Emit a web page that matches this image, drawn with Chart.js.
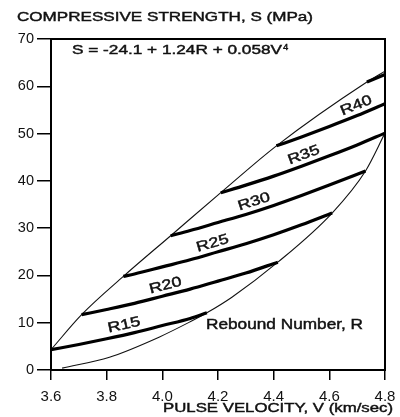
<!DOCTYPE html>
<html>
<head>
<meta charset="utf-8">
<script src="https://cdn.jsdelivr.net/npm/chart.js@4.4.1/dist/chart.umd.min.js"></script>
<style>
  html, body { margin: 0; padding: 0; background: #fff; }
  #wrap { width: 400px; height: 417px; }
</style>
</head>
<body>
<div id="wrap"><canvas id="c"></canvas></div>
<script>
// --- Data ---
const xTicks = [3.6, 3.8, 4.0, 4.2, 4.4, 4.6, 4.8];
const yTicks = [0, 10, 20, 30, 40, 50, 60, 70];

const r15V = [3.60, 3.70, 3.80, 3.90, 4.00, 4.10, 4.16];
const r15S = [4.3, 5.4, 6.6, 7.9, 9.4, 10.9, 12.1];
const r20V = [3.71, 3.80, 3.90, 4.00, 4.10, 4.20, 4.30, 4.415];
const r20S = [11.7, 12.8, 14.1, 15.6, 17.1, 18.8, 20.5, 22.8];
const r25V = [3.86, 3.90, 4.00, 4.10, 4.20, 4.30, 4.40, 4.50, 4.61];
const r25S = [19.8, 20.3, 21.8, 23.3, 25.0, 26.7, 28.6, 30.7, 33.2];
const r30V = [4.03, 4.10, 4.20, 4.30, 4.40, 4.50, 4.60, 4.73];
const r30S = [28.4, 29.5, 31.2, 32.9, 34.8, 36.9, 39.1, 42.1];
const r35V = [4.21, 4.30, 4.40, 4.50, 4.60, 4.70, 4.80];
const r35S = [37.5, 39.1, 41.0, 43.1, 45.3, 47.6, 50.1];
const r40V = [4.41, 4.50, 4.60, 4.70, 4.80];
const r40S = [47.4, 49.3, 51.5, 53.8, 56.3];
const r45V = [4.735, 4.80];
const r45S = [60.9, 62.5];

const upperV = [3.60, 3.71, 3.86, 4.03, 4.21, 4.41, 4.735, 4.80];
const upperS = [4.3, 11.7, 19.8, 28.4, 37.5, 47.4, 60.9, 63.2];
const lowerV = [3.64, 3.81, 3.99, 4.10, 4.16, 4.25, 4.415, 4.61, 4.73, 4.80];
const lowerS = [0.4, 2.7, 7.0, 10.2, 12.1, 15.4, 22.8, 33.2, 42.1, 50.1];

// label name and the V where it sits on its curve
const curveLabels = ["R15", "R20", "R25", "R30", "R35", "R40"];
const labelAt = [3.87, 4.02, 4.19, 4.34, 4.52, 4.71];

// --- Helpers ---
const pts = (v, s) => v.map((x, i) => ({ x, y: s[i] }));
const thick = (v, s) => ({ data: pts(v, s), showLine: true, borderColor: "#000", borderWidth: 3.2,
  pointRadius: 0, cubicInterpolationMode: "monotone" });
const thin = (v, s) => ({ data: pts(v, s), showLine: true, borderColor: "#111", borderWidth: 1.1,
  pointRadius: 0, cubicInterpolationMode: "monotone" });

const curves = [[r15V, r15S], [r20V, r20S], [r25V, r25S], [r30V, r30S], [r35V, r35S], [r40V, r40S]];

function interp(v, s, x) {
  for (let i = 0; i < v.length - 1; i++) {
    if (x >= v[i] && x <= v[i + 1]) return s[i] + (s[i + 1] - s[i]) * (x - v[i]) / (v[i + 1] - v[i]);
  }
  return s[s.length - 1];
}

// text stretched to a given width (the scan is wider than normal type), lightly stroked to look heavier
function fitText(ctx, str, x, y, size, width, align) {
  ctx.save();
  ctx.font = size + "px 'Liberation Sans', Arial, sans-serif";
  const w = ctx.measureText(str).width;
  const k = width ? width / w : 1;
  ctx.translate(x, y);
  ctx.scale(k, 1);
  ctx.textAlign = align || "left";
  ctx.textBaseline = "middle";
  ctx.fillStyle = "#111";
  ctx.strokeStyle = "#111";
  ctx.lineWidth = 0.45;
  ctx.fillText(str, 0, 0);
  ctx.strokeText(str, 0, 0);
  ctx.restore();
}

const extras = {
  id: "extras",
  afterDraw(chart) {
    const { ctx, chartArea: a, scales: { x, y } } = chart;
    ctx.save();
    ctx.strokeStyle = "#000";
    ctx.lineWidth = 2;
    ctx.strokeRect(a.left, a.top, a.right - a.left, a.bottom - a.top);

    // titles
    fitText(ctx, "COMPRESSIVE STRENGTH, S (MPa)", 17, 17, 13.5, 296);
    fitText(ctx, "PULSE VELOCITY, V (km/sec)", 393, 408, 13.5, 230, "right");

    // equation
    fitText(ctx, "S = -24.1 + 1.24R + 0.058V", 72, 50, 13.5, 210);
    fitText(ctx, "4", 283, 47, 9.5, 0);

    fitText(ctx, "Rebound Number, R", 206, 325, 14.5, 157);

    // curve labels, rotated along their curve
    curves.forEach(([v, s], i) => {
      const vx = labelAt[i];
      const d = 0.03;
      const px0 = x.getPixelForValue(vx - d), py0 = y.getPixelForValue(interp(v, s, vx - d));
      const px1 = x.getPixelForValue(vx + d), py1 = y.getPixelForValue(interp(v, s, vx + d));
      const ang = Math.atan2(py1 - py0, px1 - px0);
      const cx = x.getPixelForValue(vx), cy = y.getPixelForValue(interp(v, s, vx));
      ctx.save();
      ctx.translate(cx, cy);
      ctx.rotate(ang);
      fitText(ctx, curveLabels[i], 0, -9.5, 14, 33, "center");
      ctx.restore();
    });
    ctx.restore();
  }
};

new Chart(document.getElementById("c"), {
  type: "scatter",
  data: {
    datasets: [
      ...curves.map(([v, s]) => thick(v, s)),
      thick(r45V, r45S),
      thin(upperV, upperS),
      thin(lowerV, lowerS)
    ]
  },
  options: {
    responsive: true,
    maintainAspectRatio: false,
    animation: false,
    layout: { padding: { top: 39, right: 15, left: 0, bottom: 0 } },
    plugins: { legend: { display: false }, tooltip: { enabled: false } },
    scales: {
      x: {
        type: "linear", min: xTicks[0], max: xTicks[xTicks.length - 1],
        afterBuildTicks: s => { s.ticks = xTicks.map(value => ({ value })); },
        afterFit: s => { s.height = 47; s.paddingLeft = 0; s.paddingRight = 0; },
        grid: { drawOnChartArea: false, drawTicks: true, tickLength: 10, color: "#000", lineWidth: 1.5 },
        border: { color: "#000", width: 2 },
        ticks: { color: "#111", padding: 8, font: { size: 15, family: "'Liberation Sans', Arial" },
          callback: v => v.toFixed(1), maxRotation: 0 }
      },
      y: {
        type: "linear", min: yTicks[0], max: yTicks[yTicks.length - 1],
        afterBuildTicks: s => { s.ticks = yTicks.map(value => ({ value })); },
        afterFit: s => { s.width = 51; s.paddingTop = 0; s.paddingBottom = 0; },
        grid: { drawOnChartArea: false, drawTicks: true, tickLength: 14, color: "#000", lineWidth: 1.5 },
        border: { color: "#000", width: 2 },
        ticks: { color: "#111", padding: 3, font: { size: 14.5, family: "'Liberation Sans', Arial" } }
      }
    }
  },
  plugins: [extras]
});
</script>
</body>
</html>
